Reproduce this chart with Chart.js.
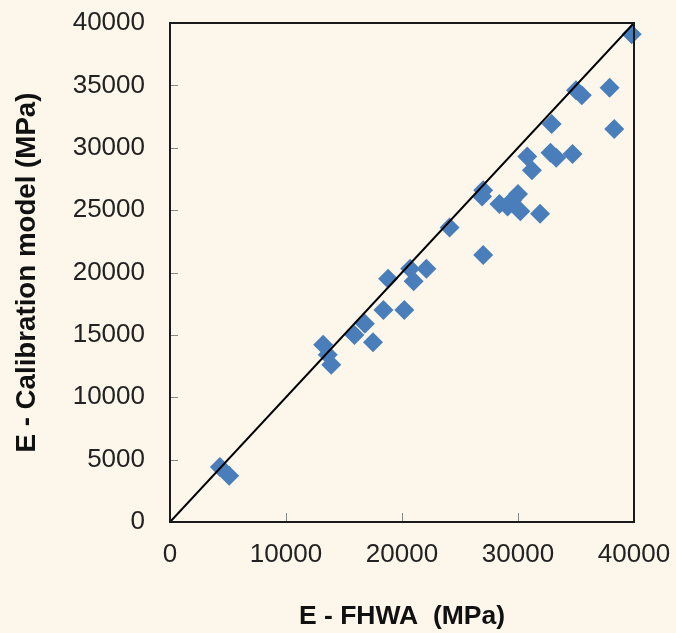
<!DOCTYPE html>
<html>
<head>
<meta charset="utf-8">
<script src="https://cdn.jsdelivr.net/npm/chart.js@4/dist/chart.umd.min.js"></script>
<style>
  html, body { margin: 0; padding: 0; background: #fdf7eb; }
  canvas { display: block; }
</style>
</head>
<body>
<canvas id="chart" width="676" height="633"></canvas>
<script>
// E - FHWA (x) vs E - Calibration model (y), MPa
const eFhwa = [
  39800, 35000, 35500, 37900, 38300, 32900, 30800, 31200, 32800, 33300,
  34700, 27000, 26900, 28400, 29100, 29500, 30000, 30200, 31900, 24100,
  27000, 18800, 20700, 21000, 22100, 18400, 20200, 16800, 15900, 17500,
  13200, 13600, 13900, 4300, 5100
]
const eCalib = [
  39100, 34600, 34200, 34800, 31500, 31900, 29300, 28200, 29600, 29200,
  29500, 26600, 26100, 25500, 25300, 25800, 26300, 24900, 24700, 23600,
  21400, 19500, 20300, 19300, 20300, 17000, 17000, 15900, 15000, 14400,
  14200, 13400, 12600, 4400, 3700
]
const lineX = [0, 40000]
const lineY = [0, 40000]
const xTicks = [0, 10000, 20000, 30000, 40000]
const yTicks = [0, 5000, 10000, 15000, 20000, 25000, 30000, 35000, 40000]

const bg = '#fdf7eb'
const font = "'Liberation Sans', Arial, sans-serif"

let points = eFhwa.map(function (v, i) { return {x: v, y: eCalib[i]} })
let diag = lineX.map(function (v, i) { return {x: v, y: lineY[i]} })

function noPad(s) {
  s.paddingTop = 0
  s.paddingBottom = 0
  s.paddingLeft = 0
  s.paddingRight = 0
}

// background + frame + inward tick marks
const framePlugin = {
  id: 'frame',
  beforeDraw: function (chart) {
    const c = chart.ctx
    c.save()
    c.fillStyle = bg
    c.fillRect(0, 0, chart.width, chart.height)
    c.restore()
  },
  afterDraw: function (chart) {
    const c = chart.ctx
    const a = chart.chartArea
    const xs = chart.scales.x
    const ys = chart.scales.y
    c.save()
    c.strokeStyle = '#888'
    c.lineWidth = 1
    c.beginPath()
    xs.ticks.forEach(function (t, i) {
      let px = Math.round(xs.getPixelForTick(i)) + 0.5
      c.moveTo(px, a.bottom)
      c.lineTo(px, a.bottom - 9)
    })
    ys.ticks.forEach(function (t, i) {
      let py = Math.round(ys.getPixelForTick(i)) + 0.5
      c.moveTo(a.left, py)
      c.lineTo(a.left + 8, py)
    })
    c.stroke()
    c.strokeStyle = '#1a1a1a'
    c.lineWidth = 2
    c.strokeRect(a.left, a.top, a.right - a.left, a.bottom - a.top)
    c.restore()
  }
}

const ctx = document.getElementById('chart').getContext('2d')
let myChart = new Chart(ctx, {
  type: 'scatter',
  data: {
    datasets: [
      {
        type: 'line',
        data: diag,
        borderColor: '#000',
        borderWidth: 2,
        pointRadius: 0,
        fill: false,
        order: 0
      },
      {
        data: points,
        pointStyle: 'rectRot',
        pointRadius: 10,
        pointHoverRadius: 10,
        backgroundColor: '#4a7ebb',
        borderColor: '#4a7ebb',
        borderWidth: 0,
        clip: false,
        order: 1
      }
    ]
  },
  options: {
    responsive: false,
    devicePixelRatio: 1,
    animation: false,
    layout: {padding: {top: 23, right: 42, left: 0, bottom: 0}},
    plugins: {
      legend: {display: false},
      tooltip: {enabled: false}
    },
    scales: {
      x: {
        type: 'linear',
        min: 0,
        max: 40000,
        afterBuildTicks: function (s) { s.ticks = xTicks.map(function (v) { return {value: v} }) },
        afterFit: function (s) { s.height = 111; noPad(s) },
        grid: {display: false, drawTicks: false},
        border: {display: false},
        ticks: {
          padding: 17,
          maxRotation: 0,
          color: '#222',
          font: {family: font, size: 26},
          callback: function (v) { return String(v) }
        },
        title: {
          display: true,
          text: 'E - FHWA  (MPa)',
          color: '#111',
          font: {family: font, size: 26.5, weight: 'bold'},
          padding: {top: 0, bottom: 0}
        }
      },
      y: {
        type: 'linear',
        min: 0,
        max: 40000,
        afterBuildTicks: function (s) { s.ticks = yTicks.map(function (v) { return {value: v} }) },
        afterFit: function (s) { s.width = 170; noPad(s) },
        grid: {display: false, drawTicks: false},
        border: {display: false},
        ticks: {
          padding: 25,
          color: '#222',
          font: {family: font, size: 26},
          callback: function (v) { return String(v) }
        },
        title: {
          display: true,
          text: 'E - Calibration model (MPa)',
          color: '#111',
          font: {family: font, size: 27.7, weight: 'bold'},
          padding: {top: 11, bottom: 0}
        }
      }
    }
  },
  plugins: [framePlugin]
})
</script>
</body>
</html>
